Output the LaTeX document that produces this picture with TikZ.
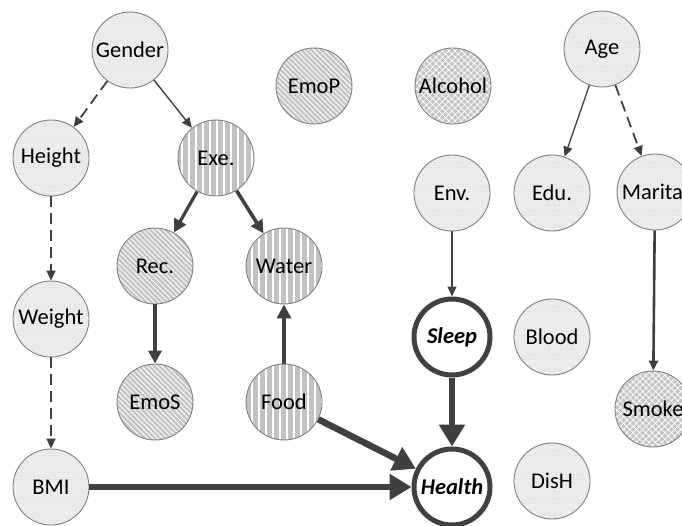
\documentclass[tikz,border=0pt]{standalone}
\usepackage{fontspec}
\setmainfont{Carlito}
\usetikzlibrary{arrows.meta,patterns.meta}

\definecolor{edgecol}{HTML}{404040}
\definecolor{rimcol}{HTML}{808080}
\definecolor{lightbg}{HTML}{EEEEEE}
\definecolor{dotcol}{HTML}{D2D2D2}
\definecolor{midbg}{HTML}{C2C2C2}

\tikzset{
  var/.style={circle, draw=rimcol, line width=0.9pt, minimum size=76pt,
    inner sep=0pt, text=black, font=\fontsize{22.5}{26}\selectfont},
  plain/.style={var, preaction={fill=lightbg},
    pattern={Dots[distance=2.4pt,radius=0.45pt]}, pattern color=dotcol},
  vstripe/.style={var, preaction={fill=midbg},
    pattern={Lines[angle=90,distance=7pt,line width=1.4pt]}, pattern color=white},
  dstripe/.style={var, preaction={fill=midbg!95!white},
    pattern={Lines[angle=-45,distance=3.6pt,line width=0.9pt]}, pattern color=white},
  xhatch/.style={var, preaction={fill=midbg!95!white},
    pattern={Hatch[angle=45,distance=4.5pt,line width=0.7pt]}, pattern color=white},
  target/.style={circle, draw=edgecol, line width=5pt, fill=white,
    minimum size=76pt, inner sep=0pt,
    font=\fontsize{22.5}{26}\selectfont\bfseries\itshape},
  link/.style={draw=edgecol, line width=#1},
  tipS/.style={-{Triangle[length=10pt,width=9pt]}},
  tipM/.style={-{Triangle[length=13pt,width=13pt]}},
  tipL/.style={-{Triangle[length=22pt,width=25pt]}},
  dashlink/.style={dash pattern=on 11pt off 6pt},
}

\begin{document}
\begin{tikzpicture}[x=1pt,y=-1pt]
  \useasboundingbox (0,0) rectangle (682,525);
  \clip (0,0) rectangle (682,525);

  % variables
  \node[plain]   (gender)  at (130,50)  {Gender};
  \node[plain]   (height)  at (51,158)  {Height};
  \node[vstripe] (exe)     at (216,158) {Exe.};
  \node[dstripe] (emop)    at (314,86)  {EmoP};
  \node[xhatch]  (alcohol) at (453,86)  {Alcohol};
  \node[plain]   (age)     at (602,49)  {Age};
  \node[plain]   (env)     at (452,193) {Env.};
  \node[plain]   (edu)     at (552,193) {Edu.};
  \node[plain]   (marital) at (655,192) {Marital};
  \node[dstripe] (rec)     at (155,266) {Rec.};
  \node[vstripe] (water)   at (284,266) {Water};
  \node[plain]   (weight)  at (51,319)  {Weight};
  \node[target]  (sleep)   at (452,337) {Sleep};
  \node[plain]   (blood)   at (552,337) {Blood};
  \node[dstripe] (emos)    at (155,402) {EmoS};
  \node[vstripe] (food)    at (284,402) {Food};
  \node[xhatch]  (smoke)   at (653,409) {Smoke};
  \node[plain]   (bmi)     at (51,487)  {BMI};
  \node[target]  (health)  at (452,487) {Health};
  \node[plain]   (dish)    at (552,481) {DisH};

  % dependencies
  \draw[draw=edgecol, line width=4pt, -{Triangle[length=14pt,width=14pt]}]
    (food) -- (water);
  \draw[link=1.8pt, dashlink, tipS] (gender) -- (height);
  \draw[link=1.4pt, tipS] (gender) -- (exe);
  \draw[link=1.8pt, dashlink, tipS] (height) -- (weight);
  \draw[link=1.8pt, dashlink, tipS] (weight) -- (bmi);
  \draw[link=3.2pt, tipM] (exe) -- (rec);
  \draw[link=3.6pt, tipM] (exe) -- (water);
  \draw[link=3.4pt, tipM] (rec) -- (emos);
  \draw[link=1.1pt, tipS] (env) -- (sleep);
  \draw[link=1.3pt, tipS] (age) -- (edu);
  \draw[link=1.8pt, dashlink, tipS] (age) -- (marital);
  \draw[link=2.6pt, tipS] (marital) -- (smoke);
  \draw[link=6.5pt, tipL] (bmi) -- (health);
  \draw[link=6.5pt, tipL] (food) -- (health);
  \draw[link=6.5pt, tipL] (sleep) -- (health);
\end{tikzpicture}
\end{document}
